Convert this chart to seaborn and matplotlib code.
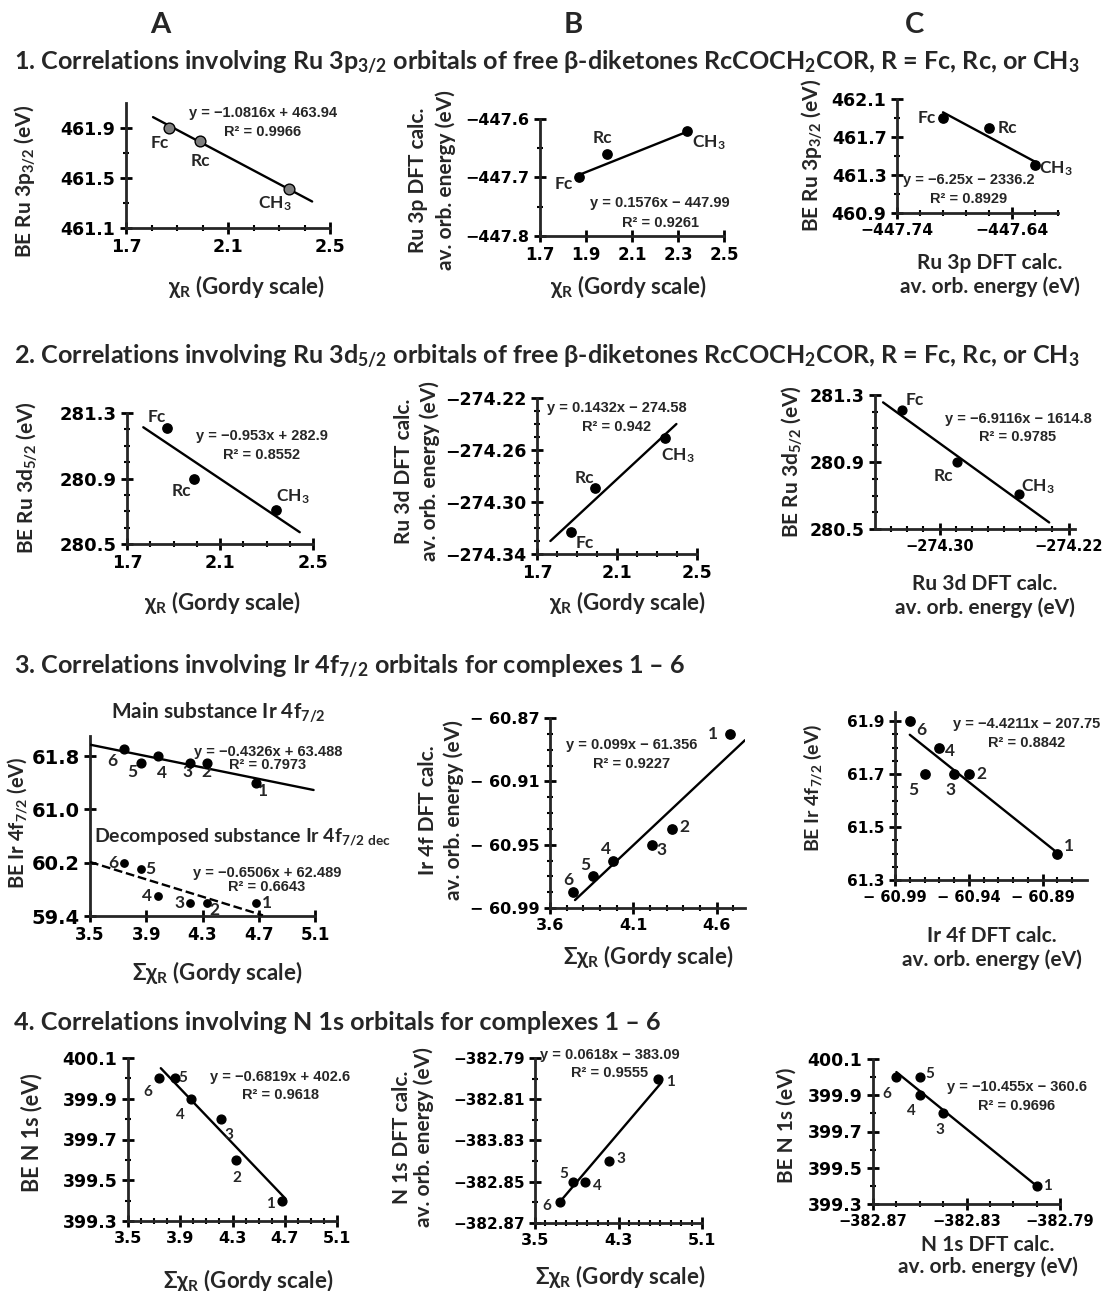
import numpy as np
import matplotlib
matplotlib.use("Agg")
import matplotlib.pyplot as plt
from matplotlib.ticker import FuncFormatter
import seaborn as sns

# ---------------- data ----------------
# free beta-diketones RcCOCH2COR, R = Fc, Rc, CH3
r_groups = ["Fc", "Rc", "CH$_3$"]
chi_r = [1.87, 1.99, 2.34]
be_ru3p = [461.90, 461.80, 461.41]
dft_ru3p = [-447.70, -447.66, -447.62]
be_ru3d = [281.21, 280.90, 280.71]
dft_ru3d = [-274.323, -274.289, -274.251]

# complexes 1 - 6
complexes = ["1", "2", "3", "4", "5", "6"]
sum_chi = [4.68, 4.33, 4.21, 3.98, 3.86, 3.74]
be_ir_main = [61.4, 61.7, 61.7, 61.8, 61.7, 61.9]
be_ir_dec = [59.6, 59.6, 59.6, 59.7, 60.1, 60.2]
dft_ir4f = [-60.88, -60.94, -60.95, -60.96, -60.97, -60.98]
be_n1s = [399.4, 399.6, 399.8, 399.9, 400.0, 400.0]
dft_n1s = [-382.80, np.nan, -382.84, -382.85, -382.85, -382.86]

# trend lines (end points as drawn in the figure)
fit_1a_x, fit_1a_y = [1.806, 2.43], [461.987, 461.312]
fit_1b_x, fit_1b_y = [1.867, 2.338], [-447.696, -447.622]
fit_1c_x, fit_1c_y = [-447.70, -447.62], [461.96, 461.44]
fit_2a_x, fit_2a_y = [1.77, 2.443], [281.213, 280.572]
fit_2b_x, fit_2b_y = [1.767, 2.397], [-274.330, -274.240]
fit_2c_x, fit_2c_y = [-274.335, -274.232], [281.256, 280.539]
fit_3a_x, fit_3a_y = [3.5, 5.09], [61.97, 61.29]
fit_3ad_x, fit_3ad_y = [3.5, 4.73], [60.21, 59.41]
fit_3b_x, fit_3b_y = [3.75, 4.77], [-60.985, -60.884]
fit_3c_x, fit_3c_y = [-60.98, -60.881], [61.849, 61.407]
fit_4a_x, fit_4a_y = [3.751, 4.705], [400.05, 399.41]
fit_4b_x, fit_4b_y = [3.734, 4.71], [-382.860, -382.802]
fit_4c_x, fit_4c_y = [-382.86, -382.80], [400.028, 399.40]

eq_text = {
    "1a": ("y = −1.0816x + 463.94", "R² = 0.9966"),
    "1b": ("y = 0.1576x − 447.99", "R² = 0.9261"),
    "1c": ("y = −6.25x − 2336.2", "R² = 0.8929"),
    "2a": ("y = −0.953x + 282.9", "R² = 0.8552"),
    "2b": ("y = 0.1432x − 274.58", "R² = 0.942"),
    "2c": ("y = −6.9116x − 1614.8", "R² = 0.9785"),
    "3a": ("y = −0.4326x + 63.488", "R² = 0.7973"),
    "3ad": ("y = −0.6506x + 62.489", "R² = 0.6643"),
    "3b": ("y = 0.099x − 61.356", "R² = 0.9227"),
    "3c": ("y = −4.4211x − 207.75", "R² = 0.8842"),
    "4a": ("y = −0.6819x + 402.6", "R² = 0.9618"),
    "4b": ("y = 0.0618x − 383.09", "R² = 0.9555"),
    "4c": ("y = −10.455x − 360.6", "R² = 0.9696"),
}
n1s_yticklabels = ["−382.87", "−382.85", "−383.83", "−382.81", "−382.79"]

# ---------------- style ----------------
sns.set_theme(style="ticks")
plt.rcParams["font.family"] = ["DejaVu Sans"]
plt.rcParams["font.weight"] = "bold"
plt.rcParams["mathtext.fontset"] = "custom"
plt.rcParams["mathtext.rm"] = "Lato:bold"
plt.rcParams["mathtext.it"] = "Lato:bold"
plt.rcParams["mathtext.bf"] = "Lato:bold"
plt.rcParams["mathtext.default"] = "rm"
plt.rcParams["axes.linewidth"] = 2.0

LATO = ["Lato", "DejaVu Sans"]
EQ_FONT = ["Liberation Sans Narrow", "Liberation Sans", "DejaVu Sans"]

W, H = 1103, 1291
fig = plt.figure(figsize=(W / 100, H / 100), dpi=100)
fig.patch.set_facecolor("white")


def P(x, y):
    return (x / W, 1 - y / H)


def ftext(x, y, s, **kw):
    kw.setdefault("ha", "center")
    kw.setdefault("va", "center")
    kw.setdefault("family", LATO)
    kw.setdefault("fontweight", "bold")
    fig.text(*P(x, y), s, **kw)


def new_ax(x0, y0, x1, y1):
    ax = fig.add_axes([x0 / W, 1 - y1 / H, (x1 - x0) / W, (y1 - y0) / H])
    ax.set_facecolor("none")
    sns.despine(ax=ax)
    return ax


def fmt(dec, space=False):
    def f(v, pos):
        sign = ("−" + (" " if space else "")) if v < -1e-12 else ""
        return sign + f"{abs(v):.{dec}f}"
    return FuncFormatter(f)


def setup(ax, xlim, xmaj, xmin, ylim, ymaj, ymin, xdec, ydec, xfs=12, yfs=12,
          xspace=False, yspace=False):
    ax.set_xlim(*xlim)
    ax.set_ylim(*ylim)
    ax.set_xticks(xmaj)
    ax.set_yticks(ymaj)
    ax.set_xticks(xmin, minor=True)
    ax.set_yticks(ymin, minor=True)
    ax.xaxis.set_major_formatter(fmt(xdec, xspace))
    ax.yaxis.set_major_formatter(fmt(ydec, yspace))
    ax.tick_params(which="major", direction="inout", length=9, width=2,
                   pad=3, color="black", labelcolor="black")
    ax.tick_params(which="minor", direction="inout", length=5, width=1.5, color="black")
    ax.tick_params(axis="x", labelsize=xfs)
    ax.tick_params(axis="y", labelsize=yfs)
    ax.grid(False)


def xlab(ax, s, x, y, fs=16, ls=1.3):
    ax.set_xlabel(s, fontsize=fs, fontweight="bold", family=LATO, ha="center",
                  va="center", linespacing=ls)
    ax.xaxis.set_label_coords(*P(x, y), transform=fig.transFigure)


def ylab(ax, s, x, y, fs=15, ls=1.3):
    ax.set_ylabel(s, fontsize=fs, fontweight="bold", family=LATO, ha="center",
                  va="center", linespacing=ls)
    ax.yaxis.set_label_coords(*P(x, y), transform=fig.transFigure)


def points(ax, x, y, face="black", s=45):
    sns.scatterplot(x=x, y=y, ax=ax, color=face, edgecolor="black", linewidth=1.0,
                    s=s, zorder=4, clip_on=False, legend=False)


def trend(ax, x, y, dashed=False):
    sns.lineplot(x=x, y=y, ax=ax, color="black", lw=1.7, zorder=3,
                 linestyle="--" if dashed else "-", legend=False)


def tags(ax, x, y, names, offs, fs=12.5):
    for xi, yi, n, (dx, dy) in zip(x, y, names, offs):
        if np.isnan(xi) or np.isnan(yi):
            continue
        ax.annotate(n, (xi, yi), xytext=(dx, -dy), textcoords="offset pixels",
                    ha="center", va="center", fontsize=fs, fontweight="bold",
                    family=LATO)


def eq(key, x, y1, y2, fs=10.5):
    a, b = eq_text[key]
    ftext(x, y1, a, fontsize=fs, family=EQ_FONT)
    ftext(x, y2, b, fontsize=fs, family=EQ_FONT)


chi_lab = r"$\chi_{\rm R}$ (Gordy scale)"
schi_lab = r"$\Sigma\chi_{\rm R}$ (Gordy scale)"
dft_lab = "{} DFT calc.\nav. orb. energy (eV)"

# ---------------- headers ----------------
for x, s in [(160, "A"), (573, "B"), (915, "C")]:
    ftext(x, 25, s, fontsize=21)
row_titles = [
    (63, r"1. Correlations involving Ru 3p$_{3/2}$ orbitals of free β-diketones RcCOCH$_2$COR, R = Fc, Rc, or CH$_3$"),
    (357, r"2. Correlations involving Ru 3d$_{5/2}$ orbitals of free β-diketones RcCOCH$_2$COR, R = Fc, Rc, or CH$_3$"),
    (667, r"3. Correlations involving Ir 4f$_{7/2}$ orbitals for complexes 1 – 6"),
    (1022, r"4. Correlations involving N 1s orbitals for complexes 1 – 6"),
]
for y, s in row_titles:
    ftext(14, y, s, ha="left", fontsize=18.1)

# ---------------- row 1 ----------------
ax = new_ax(126, 103, 330, 228)
setup(ax, (1.7, 2.5), [1.7, 2.1, 2.5], np.arange(1.8, 2.45, 0.1),
      (461.1, 462.1), [461.1, 461.5, 461.9], [461.3, 461.7], 1, 1, xfs=12.5, yfs=12.5)
trend(ax, fit_1a_x, fit_1a_y)
points(ax, chi_r, be_ru3p, face="#7f7f7f", s=60)
tags(ax, chi_r, be_ru3p, r_groups, [(-10, 15), (0, 21), (-14, 14)])
eq("1a", 263, 113, 132)
ylab(ax, r"BE Ru 3p$_{3/2}$ (eV)", 25, 181)
xlab(ax, chi_lab, 246, 287)

ax = new_ax(540, 119, 724, 236)
setup(ax, (1.7, 2.5), [1.7, 1.9, 2.1, 2.3, 2.5], [],
      (-447.8, -447.6), [-447.8, -447.7, -447.6], [-447.75, -447.65], 1, 1, xfs=12, yfs=11.5)
trend(ax, fit_1b_x, fit_1b_y)
points(ax, chi_r, dft_ru3p)
tags(ax, chi_r, dft_ru3p, r_groups, [(-15, 7), (-4, -16), (22, 12)])
eq("1b", 660, 203, 223)
ylab(ax, dft_lab.format("Ru 3p"), 432, 180, ls=1.45)
xlab(ax, chi_lab, 628, 287)

ax = new_ax(897, 99, 1058, 213)
setup(ax, (-447.74, -447.60), [-447.74, -447.64], [-447.72, -447.70, -447.68, -447.66, -447.62, -447.60],
      (460.9, 462.1), [460.9, 461.3, 461.7, 462.1], [461.1, 461.5, 461.9], 2, 1, xfs=11.2, yfs=12.5)
trend(ax, fit_1c_x, fit_1c_y)
points(ax, dft_ru3p, be_ru3p)
tags(ax, dft_ru3p, be_ru3p, r_groups, [(-16, 0), (18, 0), (21, 4)])
eq("1c", 969, 180, 199)
ylab(ax, r"BE Ru 3p$_{3/2}$ (eV)", 812, 155)
xlab(ax, dft_lab.format("Ru 3p"), 990, 275, fs=15, ls=1.2)

# ---------------- row 2 ----------------
ax = new_ax(127, 413, 313, 544)
setup(ax, (1.7, 2.5), [1.7, 2.1, 2.5], np.arange(1.8, 2.45, 0.1),
      (280.5, 281.3), [280.5, 280.9, 281.3], [280.6, 280.7, 280.8, 281.0, 281.1, 281.2], 1, 1,
      xfs=12.5, yfs=13)
trend(ax, fit_2a_x, fit_2a_y)
points(ax, chi_r, be_ru3d)
tags(ax, chi_r, be_ru3d, r_groups, [(-10, -11), (-13, 13), (17, -13)])
eq("2a", 262, 436, 455)
ylab(ax, r"BE Ru 3d$_{5/2}$ (eV)", 27, 478)
xlab(ax, chi_lab, 222, 602)

ax = new_ax(537, 398, 697, 554)
setup(ax, (1.7, 2.5), [1.7, 2.1, 2.5], np.arange(1.8, 2.45, 0.1),
      (-274.34, -274.22), [-274.34, -274.30, -274.26, -274.22],
      [-274.33, -274.32, -274.31, -274.29, -274.28, -274.27, -274.25, -274.24, -274.23], 1, 2,
      xfs=12.5, yfs=12.5)
trend(ax, fit_2b_x, fit_2b_y)
points(ax, chi_r, dft_ru3d)
tags(ax, chi_r, dft_ru3d, r_groups, [(14, 11), (-11, -10), (13, 17)])
eq("2b", 617, 408, 427)
ylab(ax, dft_lab.format("Ru 3d"), 417, 471, ls=1.3)
xlab(ax, chi_lab, 627, 603)

ax = new_ax(875, 395, 1075, 529)
setup(ax, (-274.34, -274.216), [-274.30, -274.22],
      [-274.33, -274.32, -274.31, -274.29, -274.28, -274.27, -274.26, -274.25, -274.24, -274.23],
      (280.5, 281.3), [280.5, 280.9, 281.3], [280.6, 280.7, 280.8, 281.0, 281.1, 281.2], 2, 1,
      xfs=10.5, yfs=12.5)
trend(ax, fit_2c_x, fit_2c_y)
points(ax, dft_ru3d, be_ru3d, s=40)
tags(ax, dft_ru3d, be_ru3d, r_groups, [(12, -10), (-14, 14), (19, -7)])
eq("2c", 1018, 419, 437)
ylab(ax, r"BE Ru 3d$_{5/2}$ (eV)", 792, 462)
xlab(ax, dft_lab.format("Ru 3d"), 985, 596, fs=15, ls=1.15)

# ---------------- row 3 ----------------
ax = new_ax(90, 736, 315, 916)
setup(ax, (3.5, 5.1), [3.5, 3.9, 4.3, 4.7, 5.1], [],
      (59.4, 62.1), [59.4, 60.2, 61.0, 61.8], [], 1, 1, xfs=12, yfs=14)
trend(ax, fit_3a_x, fit_3a_y)
trend(ax, fit_3ad_x, fit_3ad_y, dashed=True)
points(ax, sum_chi, be_ir_main, s=40)
points(ax, sum_chi, be_ir_dec, s=28)
tags(ax, sum_chi, be_ir_main, complexes, [(7, 8), (0, 9), (-2, 9), (4, 17), (-8, 9), (-11, 12)])
tags(ax, sum_chi, be_ir_dec, complexes, [(11, 0), (8, 7), (-10, 0), (-11, 0), (10, 0), (-10, 0)])
ftext(218, 713, r"Main substance Ir 4f$_{7/2}$", fontsize=15)
ftext(94, 837, r"Decomposed substance Ir 4f$_{7/2\ \rm dec}$", ha="left", fontsize=14)
eq("3a", 268, 752, 765)
eq("3ad", 267, 873, 887)
ylab(ax, r"BE Ir 4f$_{7/2}$ (eV)", 18, 823, fs=14.5)
xlab(ax, schi_lab, 217, 972)

ax = new_ax(550, 718, 745, 908)
setup(ax, (3.6, 4.77), [3.6, 4.1, 4.6], [3.7, 3.8, 3.9, 4.0, 4.2, 4.3, 4.4, 4.5, 4.7],
      (-60.99, -60.87), [-60.99, -60.95, -60.91, -60.87],
      [-60.98, -60.97, -60.96, -60.94, -60.93, -60.92, -60.90, -60.89, -60.88], 1, 2,
      xfs=11.5, yfs=11.5, yspace=True)
trend(ax, fit_3b_x, fit_3b_y)
points(ax, sum_chi, dft_ir4f)
tags(ax, sum_chi, dft_ir4f, complexes, [(-17, 0), (13, -2), (10, 5), (-7, -12), (-8, -11), (-5, -12)])
eq("3b", 632, 745, 764)
ylab(ax, dft_lab.format("Ir 4f"), 441, 810, ls=1.3)
xlab(ax, schi_lab, 648, 957)

ax = new_ax(895, 712, 1087, 880)
setup(ax, (-60.99, -60.86), [-60.99, -60.94, -60.89],
      [-60.98, -60.97, -60.96, -60.95, -60.93, -60.92, -60.91, -60.90, -60.88, -60.87],
      (61.3, 61.935), [61.3, 61.5, 61.7, 61.9],
      [61.35, 61.4, 61.45, 61.55, 61.6, 61.65, 61.75, 61.8, 61.85], 2, 1,
      xfs=10.5, yfs=11, xspace=True)
trend(ax, fit_3c_x, fit_3c_y)
points(ax, dft_ir4f, be_ir_main)
tags(ax, dft_ir4f, be_ir_main, complexes, [(12, -8), (13, 0), (-4, 16), (11, 3), (-11, 16), (12, 9)])
eq("3c", 1027, 724, 743)
ylab(ax, r"BE Ir 4f$_{7/2}$ (eV)", 812, 788, fs=14)
xlab(ax, dft_lab.format("Ir 4f"), 992, 948, fs=15, ls=1.2)

# ---------------- row 4 ----------------
ax = new_ax(128, 1058, 337, 1221)
setup(ax, (3.5, 5.1), [3.5, 3.9, 4.3, 4.7, 5.1],
      [3.6, 3.7, 3.8, 4.0, 4.1, 4.2, 4.4, 4.5, 4.6, 4.8, 4.9, 5.0],
      (399.3, 400.1), [399.3, 399.5, 399.7, 399.9, 400.1],
      [399.4, 399.6, 399.8, 400.0], 1, 1, xfs=11.5, yfs=12.5)
trend(ax, fit_4a_x, fit_4a_y)
points(ax, sum_chi, be_n1s, s=40)
tags(ax, sum_chi, be_n1s, complexes, [(-12, 3), (0, 18), (8, 16), (-10, 16), (8, 0), (-12, 14)], fs=11)
eq("4a", 280, 1077, 1095)
ylab(ax, "BE N 1s (eV)", 32, 1133, fs=15.5)
xlab(ax, schi_lab, 248, 1280)

ax = new_ax(535, 1058, 702, 1223)
setup(ax, (3.5, 5.1), [3.5, 4.3, 5.1], np.arange(3.6, 5.05, 0.1),
      (-382.87, -382.79), [-382.87, -382.85, -382.83, -382.81, -382.79],
      [-382.86, -382.84, -382.82, -382.80], 1, 2, xfs=11.5, yfs=11)
ax.set_yticklabels(n1s_yticklabels)
trend(ax, fit_4b_x, fit_4b_y)
points(ax, sum_chi, dft_n1s, s=40)
tags(ax, sum_chi, dft_n1s, complexes, [(12, 3), (0, 0), (12, -2), (12, 4), (-9, -8), (-13, 4)], fs=11)
eq("4b", 610, 1055, 1073)
ylab(ax, dft_lab.format("N 1s"), 413, 1137, ls=1.1)
xlab(ax, schi_lab, 620, 1277)

ax = new_ax(873, 1059, 1060, 1204)
setup(ax, (-382.87, -382.79), [-382.87, -382.83, -382.79],
      [-382.86, -382.85, -382.84, -382.82, -382.81, -382.80],
      (399.3, 400.1), [399.3, 399.5, 399.7, 399.9, 400.1],
      [399.4, 399.6, 399.8, 400.0], 2, 1, xfs=10.5, yfs=12.5)
trend(ax, fit_4c_x, fit_4c_y)
points(ax, dft_n1s, be_n1s, s=40)
tags(ax, dft_n1s, be_n1s, complexes, [(11, 0), (0, 0), (-3, 17), (-8, 16), (10, -3), (-10, 17)], fs=11)
eq("4c", 1017, 1087, 1106)
ylab(ax, "BE N 1s (eV)", 787, 1125, fs=15)
xlab(ax, dft_lab.format("N 1s"), 988, 1256, fs=15, ls=1.05)

fig.savefig("out.png", dpi=100, facecolor="white")
